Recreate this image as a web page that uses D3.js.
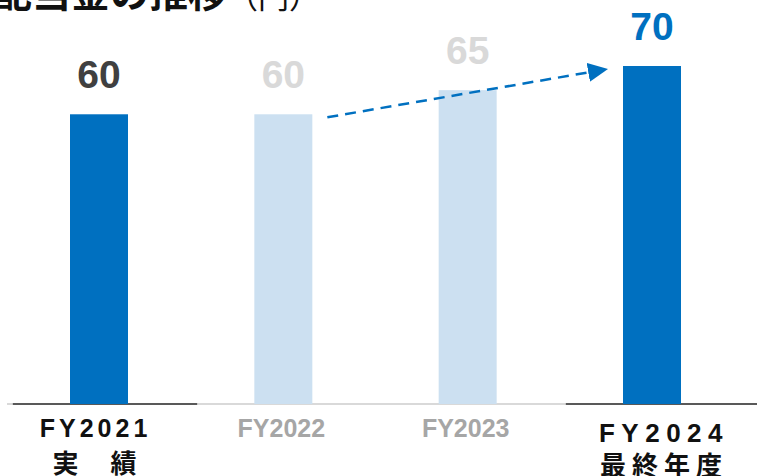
<!DOCTYPE html>
<html lang="ja">
<head>
<meta charset="utf-8">
<script src="https://cdn.jsdelivr.net/npm/d3@7"></script>
<style>
  html, body { margin: 0; padding: 0; background: #fff; }
  svg { display: block; }
  .value { font-family: "Liberation Sans", Arial, sans-serif; font-weight: 700; font-size: 39px; }
  .year { font-family: "Liberation Sans", Arial, sans-serif; font-weight: 700; }
  .sub, .title { font-family: "Noto Sans CJK JP", sans-serif; font-weight: 700; }
</style>
</head>
<body>
<svg id="chart" width="757" height="476"></svg>
<script>
// chart data
const years = ['FY2021', 'FY2022', 'FY2023', 'FY2024'];
const subLabels = ['実　績', '', '', '最終年度'];
const dividends = [60, 60, 65, 70];
const actualOrTarget = [true, false, false, true]; // emphasised columns
const titleText = '配当金の推移';
const unitText = '（円）';

const width = 757;
const height = 476;
const baseY = 404;
const barWidth = 58;

const colors = {
  dark: '#0070C0',
  light: '#CCE0F1',
  valueFirst: '#404040',
  valueMuted: '#D9D9D9',
  yearStrong: '#111111',
  yearMuted: '#A6A6A6'
};

const svg = d3.select('#chart');

const x = d3.scalePoint()
  .domain(years)
  .range([99, 652]);

const y = d3.scaleLinear()
  .domain([0, 70])
  .range([baseY, 66]);

const data = years.map((year, i) => ({
  year: year,
  sub: subLabels[i],
  value: dividends[i],
  strong: actualOrTarget[i],
  index: i
}));

// title, clipped at the top as in the slide
const title = svg.append('text')
  .attr('class', 'title')
  .attr('x', -7)
  .attr('y', 7)
  .attr('fill', '#111');
title.append('tspan')
  .attr('font-size', 39)
  .text(titleText);
title.append('tspan')
  .attr('font-size', 31)
  .attr('font-weight', 400)
  .attr('dy', 1)
  .text(unitText);

// baseline: light all the way, dark under the emphasised columns
const step = x.step();
svg.append('line')
  .attr('x1', 7)
  .attr('x2', width)
  .attr('y1', baseY)
  .attr('y2', baseY)
  .attr('stroke', '#D9D9D9')
  .attr('stroke-width', 2);

svg.selectAll('line.seg')
  .data(data.filter(d => d.strong))
  .join('line')
  .attr('class', 'seg')
  .attr('x1', d => Math.max(7, x(d.year) - step / 2 + 6))
  .attr('x2', d => d.index === years.length - 1 ? width : x(d.year) + step / 2 + 6)
  .attr('y1', baseY)
  .attr('y2', baseY)
  .attr('stroke', '#595959')
  .attr('stroke-width', 2);

// bars
svg.selectAll('rect.bar')
  .data(data)
  .join('rect')
  .attr('class', 'bar')
  .attr('x', d => x(d.year) - barWidth / 2)
  .attr('width', barWidth)
  .attr('y', d => y(d.value))
  .attr('height', d => y(0) - y(d.value))
  .attr('fill', d => d.strong ? colors.dark : colors.light);

// value labels
svg.selectAll('text.value')
  .data(data)
  .join('text')
  .attr('class', 'value')
  .attr('x', d => x(d.year))
  .attr('y', d => y(d.value) - 26)
  .attr('text-anchor', 'middle')
  .attr('fill', d => {
    if (d.index === 0) return colors.valueFirst;
    return d.strong ? colors.dark : colors.valueMuted;
  })
  .text(d => d.value);

// dashed arrow from FY2022 to FY2024
const from = data[1];
const to = data[3];
const gap = 15;

svg.append('defs')
  .append('marker')
  .attr('id', 'arrow')
  .attr('markerUnits', 'userSpaceOnUse')
  .attr('viewBox', '0 0 20 20')
  .attr('refX', 0)
  .attr('refY', 10)
  .attr('markerWidth', 20)
  .attr('markerHeight', 20)
  .attr('orient', 'auto')
  .append('path')
  .attr('d', 'M0,0.5 L20,10 L0,19.5 Z')
  .attr('fill', colors.dark);

const x1 = x(from.year) + barWidth / 2 + gap;
const y1 = y(from.value) + 3;
const tipX = x(to.year) - barWidth / 2 - gap;
const tipY = y(to.value) + 3;
const ang = Math.atan2(tipY - y1, tipX - x1);

svg.append('line')
  .attr('x1', x1)
  .attr('y1', y1)
  .attr('x2', tipX - 20 * Math.cos(ang))
  .attr('y2', tipY - 20 * Math.sin(ang))
  .attr('stroke', colors.dark)
  .attr('stroke-width', 2.5)
  .attr('stroke-dasharray', '11,7')
  .attr('marker-end', 'url(#arrow)');

// category labels
svg.selectAll('text.year')
  .data(data)
  .join('text')
  .attr('class', 'year')
  .attr('x', d => x(d.year))
  .attr('dx', d => d.index === 0 ? -3.5 : d.strong ? 12 : -2)
  .attr('y', d => d.index === 3 ? 442 : 437)
  .attr('text-anchor', 'middle')
  .attr('font-size', d => d.index === 3 ? 26 : 25)
  .attr('letter-spacing', d => d.index === 0 ? 4 : d.strong ? 6.5 : 0)
  .attr('fill', d => d.strong ? colors.yearStrong : colors.yearMuted)
  .text(d => d.year);

svg.selectAll('text.sub')
  .data(data.filter(d => d.sub))
  .join('text')
  .attr('class', 'sub')
  .attr('x', d => x(d.year))
  .attr('dx', d => d.index === 0 ? -3 : 12)
  .attr('y', d => d.index === 0 ? 473 : 475)
  .attr('text-anchor', 'middle')
  .attr('font-size', 26)
  .attr('letter-spacing', d => d.index === 0 ? 3 : 6)
  .attr('fill', colors.yearStrong)
  .text(d => d.sub);
</script>
</body>
</html>
